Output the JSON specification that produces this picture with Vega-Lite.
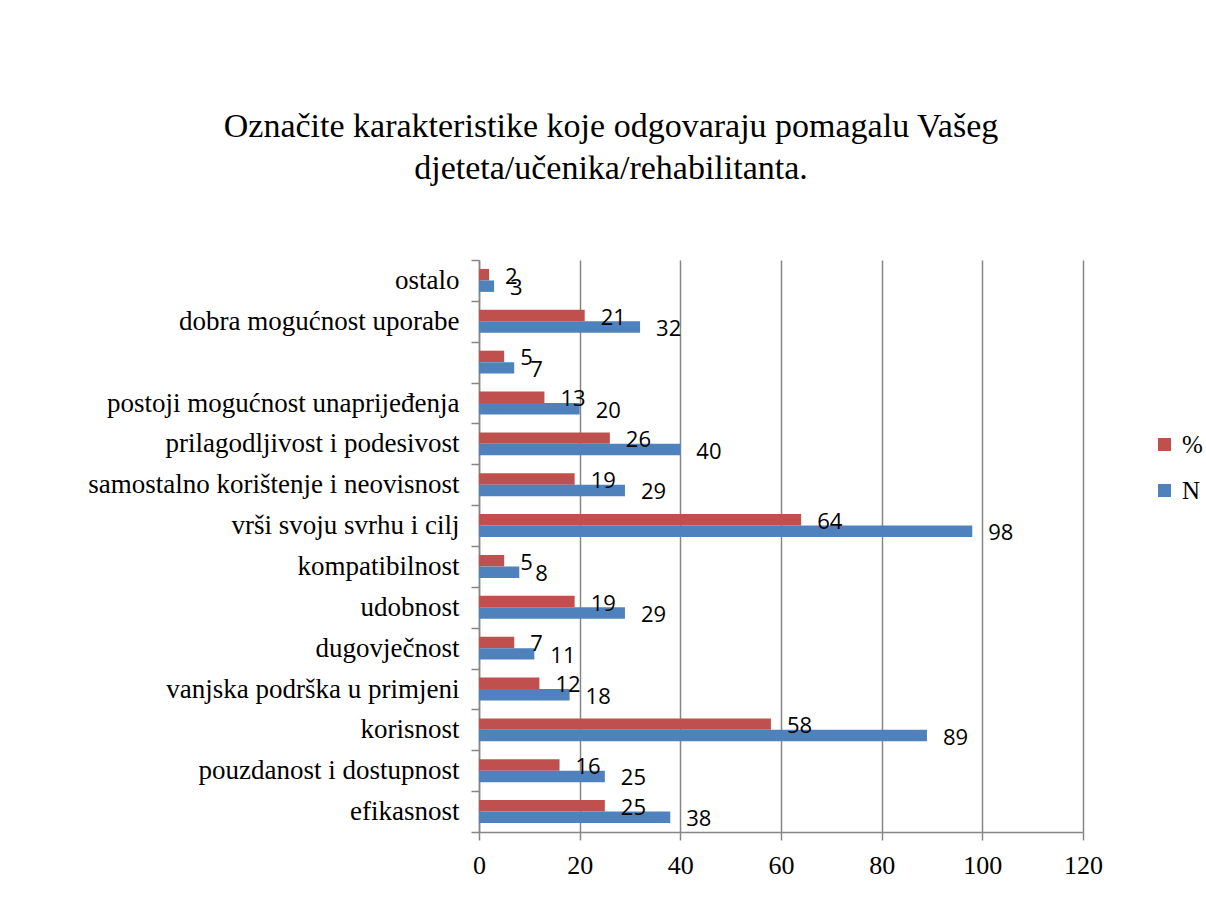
{
  "$schema": "https://vega.github.io/schema/vega-lite/v6.json",
  "width": 604,
  "height": 572,
  "autosize": {"type": "none"},
  "padding": {"left": 479, "top": 260, "right": 123, "bottom": 74},
  "background": "white",
  "title": {
    "text": ["Označite karakteristike koje odgovaraju pomagalu Vašeg", "djeteta/učenika/rehabilitanta."],
    "font": "Liberation Serif",
    "fontSize": 34,
    "fontWeight": "normal",
    "color": "black",
    "anchor": "middle",
    "frame": "group",
    "dx": -170,
    "offset": 60,
    "lineHeight": 42
  },
  "data": {
    "values": [
      {"kategorija": "ostalo", "serija": "%", "vrijednost": 2},
      {"kategorija": "ostalo", "serija": "N", "vrijednost": 3},
      {"kategorija": "dobra mogućnost uporabe", "serija": "%", "vrijednost": 21},
      {"kategorija": "dobra mogućnost uporabe", "serija": "N", "vrijednost": 32},
      {"kategorija": "", "serija": "%", "vrijednost": 5},
      {"kategorija": "", "serija": "N", "vrijednost": 7},
      {"kategorija": "postoji mogućnost unaprijeđenja", "serija": "%", "vrijednost": 13},
      {"kategorija": "postoji mogućnost unaprijeđenja", "serija": "N", "vrijednost": 20},
      {"kategorija": "prilagodljivost i podesivost ", "serija": "%", "vrijednost": 26},
      {"kategorija": "prilagodljivost i podesivost ", "serija": "N", "vrijednost": 40},
      {"kategorija": "samostalno korištenje i neovisnost", "serija": "%", "vrijednost": 19},
      {"kategorija": "samostalno korištenje i neovisnost", "serija": "N", "vrijednost": 29},
      {"kategorija": "vrši svoju svrhu i cilj ", "serija": "%", "vrijednost": 64},
      {"kategorija": "vrši svoju svrhu i cilj ", "serija": "N", "vrijednost": 98},
      {"kategorija": "kompatibilnost", "serija": "%", "vrijednost": 5},
      {"kategorija": "kompatibilnost", "serija": "N", "vrijednost": 8},
      {"kategorija": "udobnost", "serija": "%", "vrijednost": 19},
      {"kategorija": "udobnost", "serija": "N", "vrijednost": 29},
      {"kategorija": "dugovječnost", "serija": "%", "vrijednost": 7},
      {"kategorija": "dugovječnost", "serija": "N", "vrijednost": 11},
      {"kategorija": "vanjska podrška u primjeni", "serija": "%", "vrijednost": 12},
      {"kategorija": "vanjska podrška u primjeni", "serija": "N", "vrijednost": 18},
      {"kategorija": "korisnost", "serija": "%", "vrijednost": 58},
      {"kategorija": "korisnost", "serija": "N", "vrijednost": 89},
      {"kategorija": "pouzdanost i dostupnost", "serija": "%", "vrijednost": 16},
      {"kategorija": "pouzdanost i dostupnost", "serija": "N", "vrijednost": 25},
      {"kategorija": "efikasnost", "serija": "%", "vrijednost": 25},
      {"kategorija": "efikasnost", "serija": "N", "vrijednost": 38}
    ]
  },
  "encoding": {
    "y": {
      "field": "kategorija",
      "type": "nominal",
      "sort": null,
      "scale": {"paddingInner": 0, "paddingOuter": 0},
      "axis": {
        "title": null,
        "tickBand": "extent",
        "tickSize": 8,
        "tickColor": "#868686",
        "tickWidth": 1.5,
        "domainColor": "#868686",
        "domainWidth": 1.5,
        "labelFont": "Liberation Serif",
        "labelFontSize": 27,
        "labelColor": "black",
        "labelPadding": 12,
        "labelLimit": 600,
        "grid": false
      }
    },
    "yOffset": {
      "field": "serija",
      "type": "nominal",
      "sort": ["%", "N"],
      "scale": {"paddingInner": 0, "paddingOuter": 0.78}
    },
    "x": {
      "field": "vrijednost",
      "type": "quantitative",
      "scale": {"domain": [0, 120]},
      "axis": {
        "title": null,
        "values": [0, 20, 40, 60, 80, 100, 120],
        "grid": true,
        "gridColor": "#868686",
        "gridWidth": 1.5,
        "domainColor": "#868686",
        "domainWidth": 1.5,
        "tickColor": "#868686",
        "tickSize": 8,
        "tickWidth": 1.5,
        "labelFont": "Liberation Serif",
        "labelFontSize": 26,
        "labelColor": "black",
        "labelPadding": 12,
        "labelFlush": false
      }
    }
  },
  "layer": [
    {
      "mark": {"type": "bar"},
      "encoding": {
        "color": {
          "field": "serija",
          "type": "nominal",
          "scale": {"domain": ["%", "N"], "range": ["#C0504D", "#4F81BD"]},
          "legend": {
            "title": null,
            "orient": "none",
            "legendX": 673,
            "legendY": 172,
            "padding": 0,
            "symbolType": "square",
            "symbolSize": 169,
            "symbolStrokeWidth": 0,
            "labelFont": "Liberation Serif",
            "labelFontSize": 25,
            "labelColor": "black",
            "rowPadding": 20,
            "labelOffset": 5
          }
        }
      }
    },
    {
      "mark": {"type": "text", "align": "left", "baseline": "middle", "dx": 16, "dy": 2, "font": "Open Sans", "fontSize": 22, "color": "black"},
      "encoding": {
        "text": {"field": "vrijednost", "type": "quantitative"}
      }
    }
  ],
  "config": {"view": {"stroke": null}}
}
